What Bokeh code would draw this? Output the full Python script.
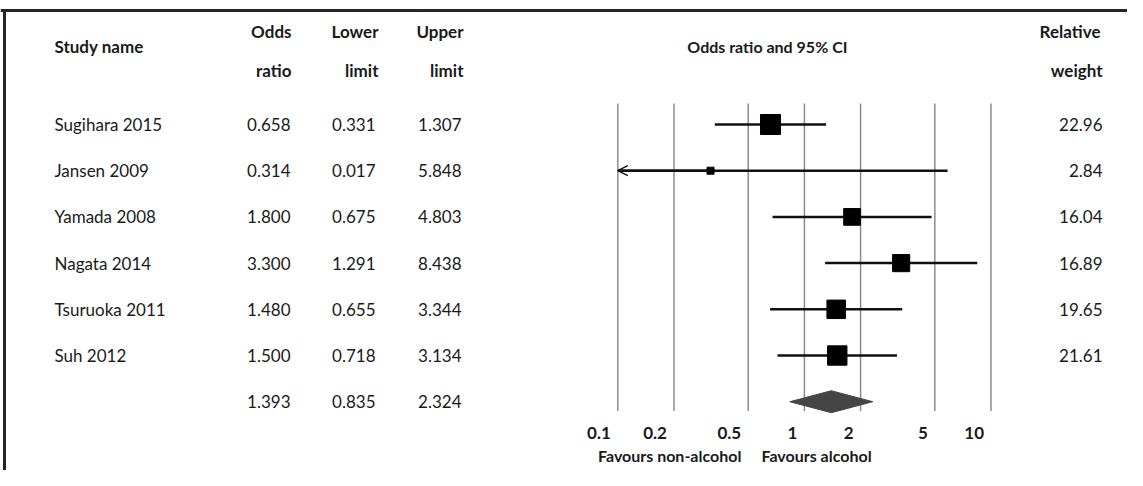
import math
from bokeh.plotting import figure
from bokeh.models import Range1d, Arrow, OpenHead, Span, LogScale
from bokeh.embed import file_html
from bokeh.resources import INLINE
from bokeh.core.properties import value

# ---- data ----
studies = ["Sugihara 2015", "Jansen 2009", "Yamada 2008", "Nagata 2014", "Tsuruoka 2011", "Suh 2012"]
odds = [0.658, 0.314, 1.800, 3.300, 1.480, 1.500]
lower = [0.331, 0.017, 0.675, 1.291, 0.655, 0.718]
upper = [1.307, 5.848, 4.803, 8.438, 3.344, 3.134]
weights = [22.96, 2.84, 16.04, 16.89, 19.65, 21.61]
summary_or = 1.393
summary_lower = 0.835
summary_upper = 2.324
ticks = [0.1, 0.2, 0.5, 1, 2, 5, 10]
tick_labels = ["0.1", "0.2", "0.5", "1", "2", "5", "10"]

# ---- styling / layout ----
FONT = value("Lato")
TXT = "#1a1a1a"
W, H = 1127, 470
rows = list(range(len(studies)))
sum_row = len(studies)
all_rows = rows + [sum_row]

p = figure(width=W, height=H, x_range=Range1d(0, W), y_range=Range1d(7.489, -2.684),
           output_backend="svg", toolbar_location=None, min_border=0)
p.extra_x_ranges = {"or": Range1d(4.918e-5, 53.89)}
p.extra_x_scales = {"or": LogScale()}
p.axis.visible = False
p.grid.visible = False
p.outline_line_color = None
p.background_fill_color = "white"
p.border_fill_color = "white"

# frame (top and left)
p.add_layout(Span(location=-2.468, dimension="width", line_color="#262626", line_width=3))
p.segment(x0=[4], y0=[-2.468], x1=[4], y1=[7.489], line_color="#262626", line_width=3)


def txt(x, y, t, size, align="left", bold=False, **kw):
    p.text(x=x, y=y, text=t, text_font=FONT, text_font_size=size,
           text_font_style="bold" if bold else "normal",
           text_baseline="middle", text_align=align, text_color=TXT, **kw)


# ---- table ----
txt([54], [-1.688], ["Study name"], "17px", bold=True)
txt([291, 291], [-2.013, -1.169], ["Odds", "ratio"], "17px", align="right", bold=True)
txt([378, 378], [-2.013, -1.169], ["Lower", "limit"], "17px", align="right", bold=True)
txt([463, 463], [-2.013, -1.169], ["Upper", "limit"], "17px", align="right", bold=True)
txt([54] * len(studies), rows, studies, "17px")
txt([290] * len(all_rows), all_rows, [f"{v:.3f}" for v in odds + [summary_or]], "17px", align="right")
txt([375] * len(all_rows), all_rows, [f"{v:.3f}" for v in lower + [summary_lower]], "17px", align="right")
txt([461] * len(all_rows), all_rows, [f"{v:.3f}" for v in upper + [summary_upper]], "17px", align="right")

# ---- forest plot (log scale) ----
p.segment(x0=ticks, y0=[-0.4545] * len(ticks), x1=ticks, y1=[6.2] * len(ticks),
          line_color="#8c8c8c", line_width=1.5, x_range_name="or")
xmin = ticks[0]
lo_clip = [max(l, xmin) for l in lower]
p.segment(x0=lo_clip, y0=rows, x1=upper, y1=rows, line_color="#111111", line_width=2.5,
          x_range_name="or")
for i, l in enumerate(lower):
    if l < xmin:
        p.add_layout(Arrow(end=OpenHead(size=10, line_width=1.5, line_color="#111111"),
                           x_start=odds[i], y_start=i, x_end=xmin, y_end=i,
                           line_width=2.5, line_color="#111111", x_range_name="or"))
p.scatter(x=odds, y=rows, marker="square", size=[4.17 * math.sqrt(w) for w in weights],
          fill_color="black", line_color="black", x_range_name="or")
p.patch(x=[summary_lower, summary_or, summary_upper, summary_or],
        y=[sum_row, sum_row - 0.238, sum_row, sum_row + 0.238],
        fill_color="#454545", line_color="#454545", x_range_name="or")
txt(ticks, [6.667] * len(ticks), tick_labels, "17px", align="right", bold=True,
    x_offset=-7, x_range_name="or")
txt([1], [-1.688], ["Odds ratio and 95% CI"], "16px", align="center", bold=True,
    x_offset=-37, x_range_name="or")
txt([1], [7.165], ["Favours non-alcohol"], "16px", align="right", bold=True,
    x_offset=-63, x_range_name="or")
txt([1], [7.165], ["Favours alcohol"], "16px", align="left", bold=True,
    x_offset=-43, x_range_name="or")

# ---- weights ----
txt([1100, 1102], [-2.013, -1.169], ["Relative", "weight"], "17px", align="right", bold=True)
txt([1102] * len(weights), rows, [f"{w:.2f}" for w in weights], "17px", align="right")

open("out.html", "w").write(file_html(p, INLINE))
